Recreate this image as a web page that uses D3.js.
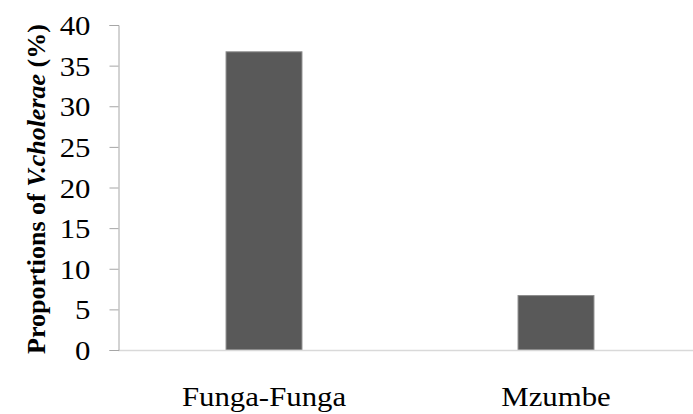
<!DOCTYPE html>
<meta charset="utf-8">
<html>
<head>
<script src="https://d3js.org/d3.v7.min.js"></script>
<style>
  body { margin: 0; background: #fff; }
  text { font-family: "Liberation Serif", "Times New Roman", serif; fill: #000; }
</style>
</head>
<body>
<svg width="693" height="414"></svg>
<script>
// data
var sites = ["Funga-Funga", "Mzumbe"];
var proportions = [36.7, 6.7];
var yTicks = [0, 5, 10, 15, 20, 25, 30, 35, 40];

var svg = d3.select("svg");

var x = d3.scaleBand().domain(sites).range([118, 702]).paddingInner(0.74).paddingOuter(0.37);
var y = d3.scaleLinear().domain([0, 40]).range([350, 25]);

// bars
svg.append("g").selectAll("rect")
  .data(sites)
  .enter().append("rect")
    .attr("x", function(d) { return x(d); })
    .attr("y", function(d, i) { return y(proportions[i]); })
    .attr("width", x.bandwidth())
    .attr("height", function(d, i) { return y(0) - y(proportions[i]); })
    .attr("fill", "#595959")
    .attr("stroke", "#8c8c8c")
    .attr("stroke-width", 1);

// x axis line
svg.append("line")
  .attr("x1", 118).attr("x2", 693)
  .attr("y1", y(0) + 0.5).attr("y2", y(0) + 0.5)
  .attr("stroke", "#d9d9d9").attr("stroke-width", 1.5);

// y axis
var yAxis = svg.append("g")
  .attr("transform", "translate(118.5,0)")
  .call(d3.axisLeft(y).tickValues(yTicks).tickSize(9));
yAxis.select(".domain").attr("stroke", "#a6a6a6");
yAxis.selectAll(".tick line").attr("stroke", "#a6a6a6");
yAxis.selectAll(".tick text")
  .attr("x", 0)
  .attr("dy", "0.34em")
  .attr("transform", "translate(-28,0) scale(1.1,1)")
  .style("font-family", "'Liberation Serif', 'Times New Roman', serif")
  .style("font-size", "28px")
  .attr("fill", "#000");

// x labels
svg.append("g").selectAll("text")
  .data(sites)
  .enter().append("text")
    .attr("transform", function(d) { return "translate(" + (x(d) + x.bandwidth() / 2) + ",406) scale(1.1,1)"; })
    .attr("text-anchor", "middle")
    .style("font-size", "28px")
    .text(function(d) { return d; });

// y label
var yl = svg.append("text")
  .attr("transform", "translate(45,189) rotate(-90)")
  .attr("text-anchor", "middle")
  .style("font-size", "26px")
  .style("font-weight", "bold");
yl.append("tspan").text("Proportions of ");
yl.append("tspan").style("font-style", "italic").text("V.cholerae");
yl.append("tspan").text(" (%)");
</script>
</body>
</html>
